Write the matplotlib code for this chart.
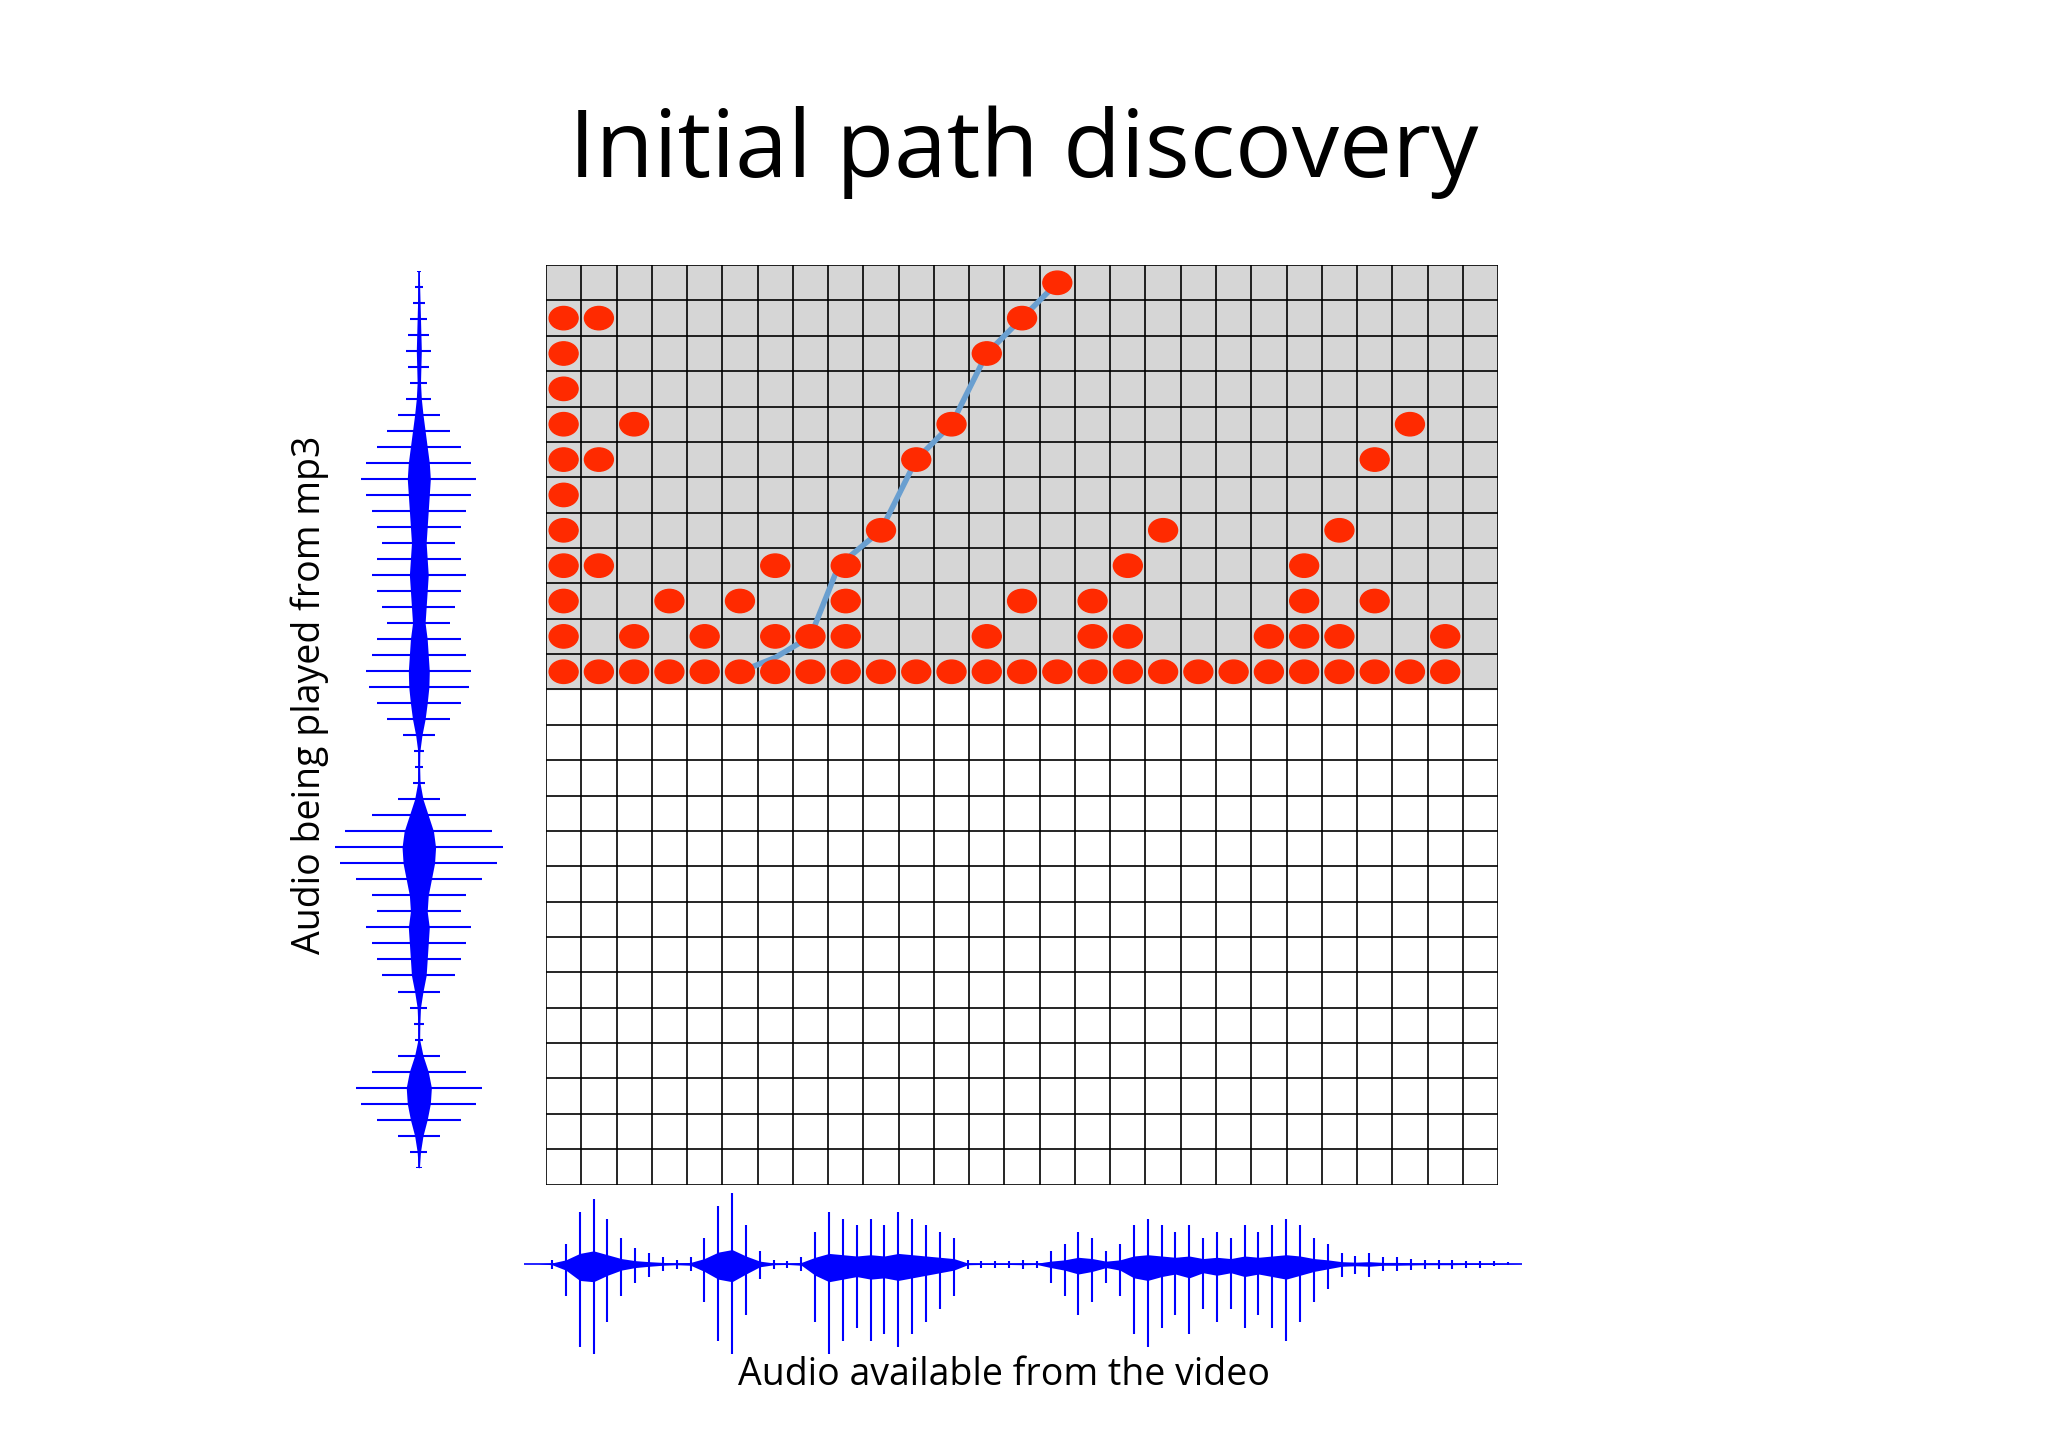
import numpy as np
import matplotlib
matplotlib.use("Agg")
import matplotlib.pyplot as plt
from matplotlib.patches import Ellipse, Rectangle

title = "Initial path discovery"
xlabel = "Audio available from the video"
ylabel = "Audio being played from mp3"
n_cols, n_rows, n_gray = 27, 26, 12

dots = {0: list(range(11)), 1: [0, 3, 6, 10], 2: [0, 1, 7], 3: [0, 2], 4: [0, 1],
        5: [0, 2], 6: [0, 1, 3], 7: [0, 1], 8: [0, 1, 2, 3], 9: [0, 4], 10: [0, 6],
        11: [0, 7], 12: [0, 1, 9], 13: [0, 2, 10], 14: [0, 11], 15: [0, 1, 2],
        16: [0, 1, 3], 17: [0, 4], 18: [0], 19: [0], 20: [0, 1], 21: [0, 1, 2, 3],
        22: [0, 1, 4], 23: [0, 2, 6], 24: [0, 7], 25: [0, 1]}
path_col = [5, 6, 7, 7.8, 9, 10, 11, 12, 13, 14]
path_row = [0, 0.4, 1, 3, 4, 6, 7, 9, 10, 11]

bot_up = [0,0,3,15,40,50,35,20,12,8,5,3,5,20,45,55,30,10,3,2,5,25,40,35,30,35,30,40,35,30,25,20,
          3,2,2,2,3,2,10,15,25,20,10,15,30,35,30,25,30,20,25,20,30,25,30,35,30,20,15,8,6,8,5,5,4,3,3,3,2,2,2,1,0]
bot_dn = [0,0,4,25,65,70,45,25,15,10,6,4,6,30,60,70,40,12,4,3,6,45,70,60,50,60,55,65,55,45,35,25,
          4,3,3,3,4,3,15,25,40,30,15,25,55,65,50,40,55,35,45,35,50,40,50,60,45,30,20,10,8,10,6,6,5,4,4,4,3,3,2,1,0]
left_w = [2,4,6,8,10,12,10,8,12,20,30,40,50,55,50,45,40,35,40,45,40,35,30,40,45,50,48,40,30,15,
          5,4,6,20,45,70,80,75,60,45,40,50,45,40,35,20,8,5,4,20,45,60,55,40,20,8,3]

fig = plt.figure(figsize=(20.48, 14.47), dpi=100)
fig.text(0.5, 0.895, title, ha="center", va="center", fontsize=68, family="Open Sans")

ax = fig.add_axes([0.2666, 0.1814, 0.4649, 0.6354])
ax.set_xlim(0, n_cols); ax.set_ylim(0, n_rows)
ax.add_patch(Rectangle((0, n_rows - n_gray), n_cols, n_gray, color="#d6d6d6", zorder=0))
for i in range(n_cols + 1):
    ax.axvline(i, color="black", lw=1.2, zorder=1)
for j in range(n_rows + 1):
    ax.axhline(j, color="black", lw=1.2, zorder=1)
base = n_rows - n_gray + 0.5
ax.plot(np.array(path_col) + 0.5, np.array(path_row) + base, color="#6a9fd0", lw=4, zorder=2)
for c, rows in dots.items():
    for r in rows:
        ax.add_patch(Ellipse((c + 0.5, r + base), 0.82, 0.66, color="#ff2a00", zorder=3))
ax.axis("off")

axb = fig.add_axes([0.256, 0.06, 0.487, 0.12])
xb = np.arange(len(bot_up))
axb.vlines(xb, -np.array(bot_dn), np.array(bot_up), color="#0000ff", lw=1.5)
axb.fill_between(xb, -np.array(bot_dn) * 0.2, np.array(bot_up) * 0.2, color="#0000ff", lw=0)
axb.axhline(0, color="#0000ff", lw=1.2)
axb.set_xlim(0, len(bot_up) - 1); axb.set_ylim(-75, 60)
axb.axis("off")
fig.text(0.49, 0.05, xlabel, ha="center", va="center", fontsize=27, family="Open Sans")

axl = fig.add_axes([0.161, 0.193, 0.087, 0.62])
yl = np.arange(len(left_w))[::-1]
w = np.array(left_w)
axl.hlines(yl, -w, w, color="#0000ff", lw=1.5)
axl.fill_betweenx(yl, -w * 0.2, w * 0.2, color="#0000ff", lw=0)
axl.axvline(0, color="#0000ff", lw=1.2)
axl.set_ylim(0, len(left_w) - 1); axl.set_xlim(-85, 85)
axl.axis("off")
fig.text(0.151, 0.52, ylabel, ha="center", va="center", rotation=90, fontsize=27, family="Open Sans")

fig.savefig("out.png", dpi=100, facecolor="white")
